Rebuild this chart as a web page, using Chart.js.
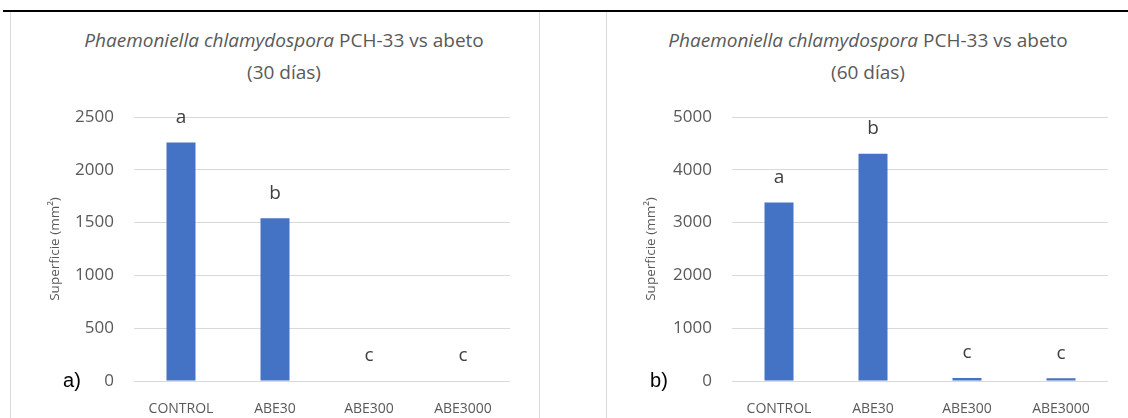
<!DOCTYPE html>
<html>
<head>
<meta charset="utf-8">
<script src="https://cdn.jsdelivr.net/npm/chart.js@4/dist/chart.umd.min.js"></script>
<style>
  body { margin: 0; width: 1128px; height: 418px; overflow: hidden; background: #fff; font-family: 'Open Sans', sans-serif; }
  .topline { position: absolute; left: 3px; top: 10px; width: 1125px; height: 2px; background: #000; }
  .panel { position: absolute; top: 12px; height: 420px; box-sizing: border-box; }
  .panel-a { left: 10px; width: 530px; border-left: 1px solid #d9d9d9; border-right: 1px solid #d9d9d9; }
  .panel-b { left: 606px; width: 530px; border-left: 1px solid #d9d9d9; }
  .title { position: absolute; top: 25px; width: 440px; text-align: center; color: #595959; font-size: 19px; line-height: 31.5px; }
  .box { position: absolute; top: 13px; height: 405px; }
</style>
</head>
<body>
<div class="topline"></div>
<div class="panel panel-a"></div>
<div class="panel panel-b"></div>
<div class="title" style="left: 64px;"><i>Phaemoniella chlamydospora</i> PCH-33 vs abeto<br>(30 días)</div>
<div class="title" style="left: 648px;"><i>Phaemoniella chlamydospora</i> PCH-33 vs abeto<br>(60 días)</div>
<div class="box" style="left: 11px; width: 528px;"><canvas id="chart30"></canvas></div>
<div class="box" style="left: 607px; width: 521px;"><canvas id="chart60"></canvas></div>
<script>
const categories = ['CONTROL', 'ABE30', 'ABE300', 'ABE3000'];

// superficie (mm2) a los 30 dias
const values30 = [2259, 1541, 0, 0];
const letters30 = ['a', 'b', 'c', 'c'];
const yTicks30 = [0, 500, 1000, 1500, 2000, 2500];

// superficie (mm2) a los 60 dias
const values60 = [3379, 4303, 57, 52];
const letters60 = ['a', 'b', 'c', 'c'];
const yTicks60 = [0, 1000, 2000, 3000, 4000, 5000];

const grey = '#595959';
const barColor = '#4472C4';

// letras de significacion encima de cada barra
const lettersPlugin = {
  id: 'letters',
  afterDatasetsDraw(chart, args, opts) {
    const { ctx } = chart;
    const meta = chart.getDatasetMeta(0);
    ctx.save();
    ctx.fillStyle = '#404040';
    ctx.font = '19px "Open Sans"';
    ctx.textAlign = 'center';
    ctx.textBaseline = 'middle';
    meta.data.forEach((bar, i) => {
      ctx.fillText(opts.letters[i], bar.x, bar.y - 25);
    });
    // etiqueta del panel, a) o b)
    const y0 = chart.scales.y.getPixelForValue(0);
    ctx.fillStyle = '#000';
    ctx.font = '20px "Liberation Sans"';
    ctx.fillText(opts.panel, opts.panelX, y0);
    ctx.restore();
  },
};

function drawChart(id, values, letters, yTicks, panel, panelX, plotLeft, padRight) {
  const ctx = document.getElementById(id).getContext('2d');
  return new Chart(ctx, {
    type: 'bar',
    data: {
      labels: categories,
      datasets: [{
        data: values,
        backgroundColor: barColor,
        barThickness: 29,
        inflateAmount: 0,
      }],
    },
    options: {
      responsive: true,
      maintainAspectRatio: false,
      animation: false,
      layout: { padding: { top: 104, right: padRight, left: 0, bottom: 0 } },
      plugins: {
        legend: { display: false },
        tooltip: { enabled: false },
        letters: { letters, panel, panelX },
      },
      scales: {
        x: {
          grid: { display: false },
          border: { display: false },
          ticks: { color: grey, font: { family: 'Open Sans', size: 14 }, padding: 12 },
          afterFit: (s) => { s.height = 37; },
        },
        y: {
          min: 0,
          max: yTicks[yTicks.length - 1],
          afterBuildTicks: (s) => { s.ticks = yTicks.map((v) => ({ value: v })); },
          afterFit: (s) => { s.width = plotLeft; },
          grid: { color: '#d9d9d9', drawTicks: false },
          border: { display: false },
          ticks: {
            color: grey,
            font: { family: 'Open Sans', size: 17 },
            padding: 20,
            callback: (v) => String(v),
          },
          title: {
            display: true,
            text: 'Superficie (mm²)',
            color: grey,
            font: { family: 'Open Sans', size: 13.5 },
            padding: { top: 36, bottom: 0 },
          },
        },
      },
    },
    plugins: [lettersPlugin],
  });
}

drawChart('chart30', values30, letters30, yTicks30, 'a)', 61, 123, 29);
drawChart('chart60', values60, letters60, yTicks60, 'b)', 52, 125, 20);
</script>
</body>
</html>
